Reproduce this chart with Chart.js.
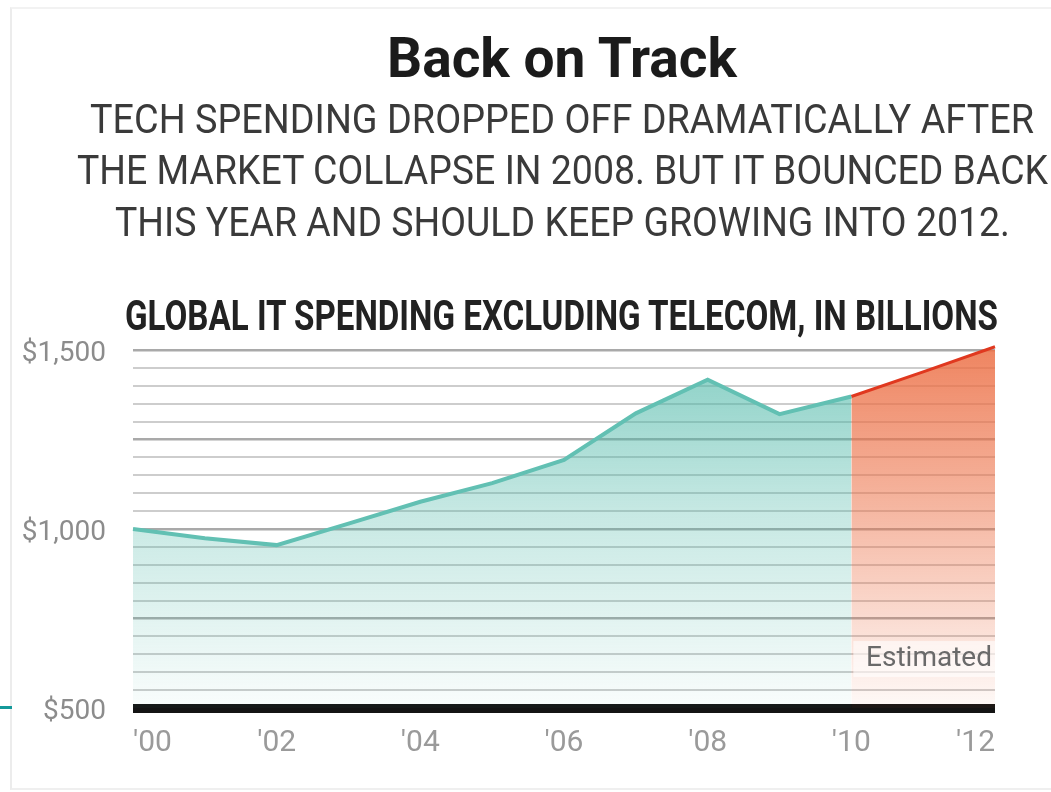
<!DOCTYPE html>
<html><head><meta charset="utf-8">
<script src="https://cdn.jsdelivr.net/npm/chart.js@4.4.1/dist/chart.umd.min.js"></script>
<style>
html,body{margin:0;padding:0;background:#fff;}
body{width:1051px;height:792px;position:relative;overflow:hidden;}
#frame{position:absolute;left:10px;top:7px;width:1060px;height:779px;border-left:2px solid #ececec;border-top:2px solid #f2f2f2;border-bottom:2px solid #efefef;}
#tick{position:absolute;left:0;top:706px;width:12px;height:3px;background:#14999a;}
canvas{position:absolute;left:0;top:0;}
.t{position:absolute;white-space:nowrap;transform-origin:0 0;line-height:1;font-family:Roboto,"Liberation Sans",sans-serif;}
</style></head>
<body>
<div id="frame"></div>
<canvas id="c" width="1051" height="792"></canvas>
<div id="tick"></div>
<div class="t" data-x="387" data-w="350" style="top:31px;font-size:55px;font-weight:700;color:#1b1b1b;">Back on Track</div>
<div class="t" data-x="90" data-w="944" style="top:98.5px;font-size:41px;font-weight:400;color:#3a3a3a;">TECH SPENDING DROPPED OFF DRAMATICALLY AFTER</div>
<div class="t" data-x="77" data-w="971" style="top:149.5px;font-size:41px;font-weight:400;color:#3a3a3a;">THE MARKET COLLAPSE IN 2008. BUT IT BOUNCED BACK</div>
<div class="t" data-x="115" data-w="895" style="top:201.5px;font-size:41px;font-weight:400;color:#3a3a3a;">THIS YEAR AND SHOULD KEEP GROWING INTO 2012.</div>
<div class="t" data-x="125" data-w="873" style="top:294.6px;font-size:42px;font-weight:700;color:#222;">GLOBAL IT SPENDING EXCLUDING TELECOM, IN BILLIONS</div>
<script>
// ---- data ----
const yearLabels = ["'00","'01","'02","'03","'04","'05","'06","'07","'08","'09","'10","'11","'12"];
const actualSpending = [1000, 974, 955, 1015, 1076, 1128, 1193, 1323, 1417, 1321, 1370, null, null];
const estimatedSpending = [null, null, null, null, null, null, null, null, null, null, 1370, 1439, 1509];
const yTickValues = [500, 1000, 1500];
const yTickLabels = ['$500', '$1,000', '$1,500'];
const estimatedText = 'Estimated';

// fit header text widths
function fitTexts(){
  document.querySelectorAll('.t').forEach(el=>{
    el.style.transform='none';
    const w = el.getBoundingClientRect().width;
    el.style.left = el.dataset.x + 'px';
    el.style.transform = 'scaleX(' + (+el.dataset.w / w) + ')';
  });
}
fitTexts();
if (document.fonts && document.fonts.ready) document.fonts.ready.then(fitTexts);

const FONT = 'Roboto, "Liberation Sans", sans-serif';

function vGrad(ctx, rgb, aTop, aMid, aBot){
  const chart = ctx.chart; const a = chart.chartArea;
  if(!a) return 'rgba(' + rgb + ',' + aTop + ')';
  const g = chart.ctx.createLinearGradient(0, a.top, 0, a.bottom);
  g.addColorStop(0, 'rgba(' + rgb + ',' + aTop + ')');
  g.addColorStop(0.45, 'rgba(' + rgb + ',' + aMid + ')');
  g.addColorStop(1, 'rgba(' + rgb + ',' + aBot + ')');
  return g;
}

const estimatedLabelPlugin = {
  id: 'estimatedLabel',
  afterDatasetsDraw(chart){
    const {ctx, chartArea, scales} = chart;
    const left = scales.x.getPixelForValue(10);
    const yc = scales.y.getPixelForValue(637);
    ctx.save();
    ctx.fillStyle = 'rgba(255,255,255,0.6)';
    ctx.fillRect(left + 2, yc - 18, chartArea.right - left - 2, 36);
    ctx.font = '28px ' + FONT;
    ctx.fillStyle = '#6a6a6a';
    ctx.textAlign = 'right';
    ctx.textBaseline = 'middle';
    ctx.fillText(estimatedText, chartArea.right - 3, yc);
    ctx.restore();
  }
};

new Chart(document.getElementById('c'), {
  type: 'line',
  data: {
    labels: yearLabels,
    datasets: [
      {
        data: actualSpending,
        borderColor: '#62c0b3',
        borderWidth: 4,
        pointRadius: 0,
        tension: 0,
        fill: 'start',
        backgroundColor: ctx => vGrad(ctx, '78,184,168', 0.68, 0.32, 0.03)
      },
      {
        data: estimatedSpending,
        borderColor: '#e0381f',
        borderWidth: 3,
        pointRadius: 0,
        tension: 0,
        fill: 'start',
        clip: false,
        backgroundColor: ctx => vGrad(ctx, '236,112,70', 0.85, 0.5, 0.04)
      }
    ]
  },
  options: {
    responsive: false,
    animation: false,
    devicePixelRatio: 1,
    layout: { padding: { top: 350, left: 0, right: 56, bottom: 0 } },
    plugins: { legend: { display: false }, tooltip: { enabled: false }, title: { display: false } },
    scales: {
      x: {
        type: 'category',
        offset: false,
        grid: { display: false, drawTicks: false },
        border: { display: false },
        ticks: {
          autoSkip: false, maxRotation: 0, align: 'inner', padding: 17,
          color: '#9a9a9a', font: { family: FONT, size: 30 },
          callback: (v, i) => (i % 2 === 0 ? yearLabels[i] : '')
        },
        afterFit: s => { s.height = 84; }
      },
      y: {
        type: 'linear', min: 500, max: 1500,
        grid: {
          drawTicks: false,
          color: c => c.tick.value === 500 ? '#141414' : (c.tick.value % 250 === 0 ? '#a9a9a9' : '#cdcdcd'),
          lineWidth: c => c.tick.value === 500 ? 9 : (c.tick.value % 250 === 0 ? 2.5 : 2)
        },
        border: { display: false },
        ticks: {
          stepSize: 50, autoSkip: false, padding: 27, labelOffset: 4,
          color: '#8c8c8c', font: { family: FONT, size: 28 },
          callback: v => { const i = yTickValues.indexOf(v); return i >= 0 ? yTickLabels[i] : ''; }
        },
        afterFit: s => { s.width = 133; }
      }
    }
  },
  plugins: [estimatedLabelPlugin]
});
</script>
</body></html>
